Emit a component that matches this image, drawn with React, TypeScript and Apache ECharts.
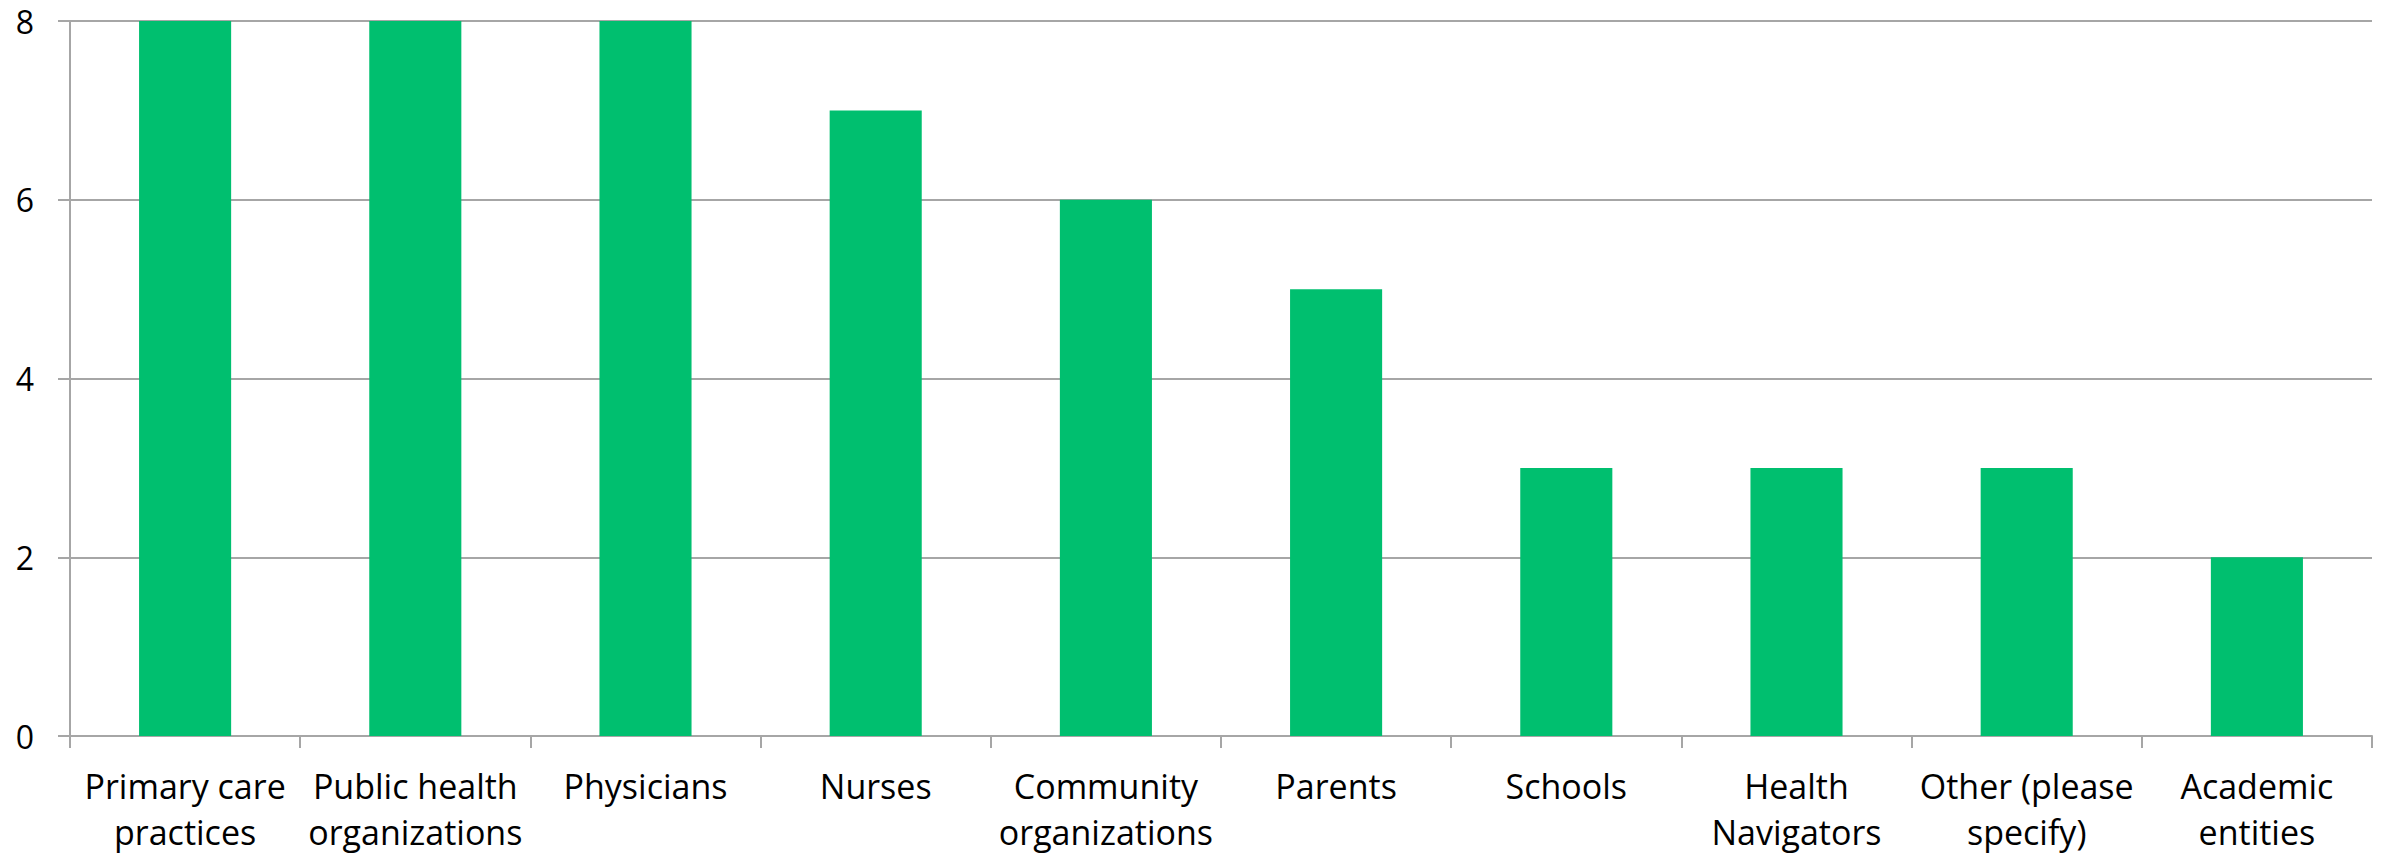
import React, { useEffect, useRef } from "react";
import * as echarts from "echarts";

const categories = [
  "Primary care practices",
  "Public health organizations",
  "Physicians",
  "Nurses",
  "Community organizations",
  "Parents",
  "Schools",
  "Health Navigators",
  "Other (please specify)",
  "Academic entities",
];
const tickLabels = [
  "Primary care\npractices",
  "Public health\norganizations",
  "Physicians",
  "Nurses",
  "Community\norganizations",
  "Parents",
  "Schools",
  "Health\nNavigators",
  "Other (please\nspecify)",
  "Academic\nentities",
];
const values = [8, 8, 8, 7, 6, 5, 3, 3, 3, 2];
const yTicks = [0, 2, 4, 6, 8];

const FONT = "'Open Sans', sans-serif";

export default function App() {
  const ref = useRef<HTMLDivElement>(null);
  useEffect(() => {
    if (!ref.current) return;
    const chart = echarts.init(ref.current, undefined, { renderer: "svg" });
    chart.setOption({
      animation: false,
      backgroundColor: "#ffffff",
      grid: { left: 70, right: 15, top: 21, bottom: 113, containLabel: false },
      xAxis: {
        type: "category",
        data: categories,
        boundaryGap: true,
        axisLine: { show: true, lineStyle: { color: "#A6A6A6", width: 2 } },
        axisTick: { show: true, length: 12, alignWithLabel: false, lineStyle: { color: "#A6A6A6", width: 2 } },
        axisLabel: {
          interval: 0,
          margin: 27,
          color: "#000000",
          fontSize: 34,
          lineHeight: 46,
          fontFamily: FONT,
          formatter: (_v: string, i: number) => tickLabels[i],
        },
        splitLine: { show: false },
      },
      yAxis: {
        type: "value",
        min: yTicks[0],
        max: yTicks[yTicks.length - 1],
        interval: 2,
        axisLine: { show: true, lineStyle: { color: "#A6A6A6", width: 2 } },
        axisTick: { show: true, length: 12, lineStyle: { color: "#A6A6A6", width: 2 } },
        axisLabel: { color: "#000000", fontSize: 32, fontFamily: FONT, margin: 36 },
        splitLine: { show: true, lineStyle: { color: "#A6A6A6", width: 2 } },
      },
      series: [
        {
          type: "bar",
          data: values,
          barCategoryGap: "60%",
          itemStyle: { color: "#00BF6F" },
        },
      ],
    });
    return () => chart.dispose();
  }, []);
  return (
    <div
      ref={ref}
      style={{ position: "absolute", left: 0, top: 0, width: 2387, height: 855 }}
    />
  );
}
